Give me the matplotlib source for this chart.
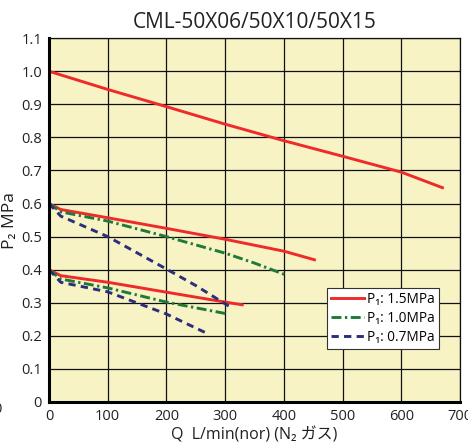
import matplotlib
matplotlib.use("Agg")
import matplotlib.pyplot as plt

title = "CML-50X06/50X10/50X15"
xlabel = "Q  L/min(nor) (N₂ ガス)"
ylabel = "P₂ MPa"
xticks = [0, 100, 200, 300, 400, 500, 600, 700]
yticks = [0, 0.1, 0.2, 0.3, 0.4, 0.5, 0.6, 0.7, 0.8, 0.9, 1.0, 1.1]
ytick_labels = ["0", "0.1", "0.2", "0.3", "0.4", "0.5", "0.6", "0.7", "0.8", "0.9", "1.0", "1.1"]

# P1 = 1.5 MPa
r1_x = [0, 100, 200, 300, 400, 500, 600, 670]
r1_y = [1.0, 0.945, 0.893, 0.840, 0.790, 0.743, 0.695, 0.648]
r2_x = [0, 20, 100, 200, 300, 400, 452]
r2_y = [0.60, 0.582, 0.557, 0.525, 0.492, 0.456, 0.430]
r3_x = [0, 20, 100, 200, 300, 329]
r3_y = [0.40, 0.382, 0.362, 0.332, 0.302, 0.294]
# P1 = 1.0 MPa
g2_x = [0, 20, 100, 200, 300, 350, 405]
g2_y = [0.60, 0.575, 0.547, 0.500, 0.450, 0.420, 0.383]
g3_x = [0, 20, 100, 200, 305]
g3_y = [0.40, 0.372, 0.345, 0.302, 0.266]
# P1 = 0.7 MPa
b2_x = [0, 20, 100, 200, 250, 308]
b2_y = [0.60, 0.562, 0.500, 0.402, 0.352, 0.288]
b3_x = [0, 20, 100, 200, 266]
b3_y = [0.40, 0.362, 0.333, 0.266, 0.210]

legend_labels = ["P₁: 1.5MPa", "P₁: 1.0MPa", "P₁: 0.7MPa"]

red = "#ee2a2a"
green = "#1f7a3a"
navy = "#2b2e7a"

fam = ["Open Sans", "Noto Sans CJK JP", "DejaVu Sans"]
plt.rcParams["font.family"] = fam

fig = plt.figure(figsize=(4.68, 4.44), dpi=100)
ax = fig.add_axes([0.1047, 0.0946, 0.8783, 0.8194])
ax.set_facecolor("#f7f3c4")

lw = 2.1
gd = (3.4, 1.2, 0.8, 1.2)
bd = (2.5, 1.8)
ax.plot(r1_x, r1_y, color=red, lw=lw, label=legend_labels[0])
ax.plot(r2_x, r2_y, color=red, lw=lw)
ax.plot(r3_x, r3_y, color=red, lw=lw)
ax.plot(g2_x, g2_y, color=green, lw=lw, dashes=gd, label=legend_labels[1])
ax.plot(g3_x, g3_y, color=green, lw=lw, dashes=gd)
ax.plot(b2_x, b2_y, color=navy, lw=lw, dashes=bd, label=legend_labels[2])
ax.plot(b3_x, b3_y, color=navy, lw=lw, dashes=bd)

ax.set_xlim(0, 700)
ax.set_ylim(0, 1.1)
ax.set_xticks(xticks)
ax.set_yticks(yticks)
ax.set_yticklabels(ytick_labels)
ax.tick_params(length=0, labelsize=10.5, colors="#222222", pad=5)
ax.grid(True, color="#111111", lw=0.9)
ax.set_axisbelow(True)
for s in ["top", "right"]:
    ax.spines[s].set_linewidth(0.9)
    ax.spines[s].set_color("#111111")
for s in ["left", "bottom"]:
    ax.spines[s].set_linewidth(2.2)
    ax.spines[s].set_color("#000000")

ax.set_title(title, fontsize=15, color="#222222", pad=7)
ax.set_xlabel(xlabel, fontsize=11.5, color="#222222", labelpad=2)
ax.set_ylabel(ylabel, fontsize=12.5, color="#222222", labelpad=2)

leg = ax.legend(loc="lower left", bbox_to_anchor=(0.677, 0.145), fontsize=9.8,
                frameon=True, fancybox=False, framealpha=1, edgecolor="#333333",
                handlelength=2.4, handletextpad=0.25, borderpad=0.3, labelspacing=0.3,
                borderaxespad=0)
leg.get_frame().set_linewidth(0.8)

fig.text(-0.006, 0.078, "0", fontsize=10.5, color="#222222", ha="center", va="center")

fig.savefig("out.png", dpi=100)
